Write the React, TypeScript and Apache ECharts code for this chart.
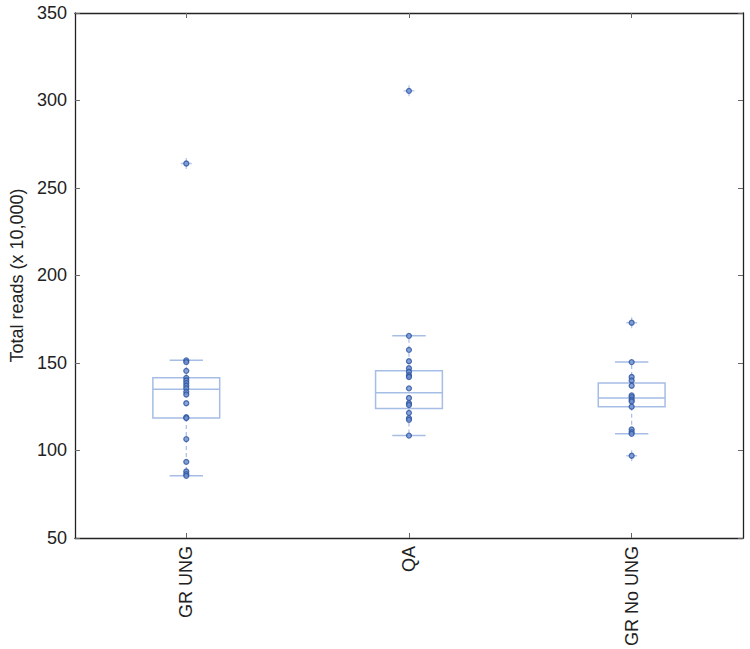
import React, { useEffect, useRef } from "react";
import * as echarts from "echarts";

const categories = ["GR UNG", "QA", "GR No UNG"];
// [min, Q1, median, Q3, max(whisker)]
const boxStats = [
  [85.5, 118.5, 135, 141.5, 151.5],
  [108.5, 124, 133, 145.5, 165.5],
  [109.5, 125, 130, 138.5, 150.5],
];
const pointsGRUNG = [264, 151.5, 150.5, 145.5, 141.5, 140, 138.5, 137, 135.5, 133.5, 132, 127, 119, 118.5, 106.5, 93.5, 88, 86.5, 85.5];
const pointsQA = [305.5, 165.5, 157.5, 151, 147, 145, 143, 142, 135.5, 130, 127, 126, 121.5, 118.5, 117.5, 108.5];
const pointsGRNoUNG = [173, 150.5, 142, 140, 137, 131.5, 130.5, 129, 128, 125, 112, 110.5, 109.5, 97];
const outliers: [string, number][] = [
  ["GR UNG", 264],
  ["QA", 305.5],
  ["GR No UNG", 173],
  ["GR No UNG", 97],
];
const yTicks = { min: 50, max: 350, interval: 50 };

const BOX_COLOR = "#a6bde6";
const AXIS_COLOR = "#222";
const FONT = "Liberation Sans, Arial, sans-serif";

export default function App() {
  const ref = useRef<HTMLDivElement>(null);
  useEffect(() => {
    if (!ref.current) return;
    const chart = echarts.init(ref.current, null, { renderer: "svg" });
    const allPoints = [pointsGRUNG, pointsQA, pointsGRNoUNG];
    const pointData: [string, number][] = [];
    allPoints.forEach((arr, i) => arr.forEach((v) => pointData.push([categories[i], v])));

    const axisCommon = {
      axisLine: { show: true, lineStyle: { color: AXIS_COLOR, width: 1.3 } },
      splitLine: { show: false },
    };
    const tick = { show: true, inside: true, length: 5, lineStyle: { color: "#666" } };

    chart.setOption({
      animation: false,
      grid: { left: 65, right: 7, top: 13, bottom: 111 },
      xAxis: [
        {
          type: "category",
          data: categories,
          position: "bottom",
          boundaryGap: true,
          ...axisCommon,
          axisTick: { ...tick, alignWithLabel: true },
          axisLabel: { rotate: 90, fontSize: 18, color: "#222", fontFamily: FONT, margin: 8 },
        },
        {
          type: "category",
          data: categories,
          position: "top",
          boundaryGap: true,
          ...axisCommon,
          axisTick: { ...tick, alignWithLabel: true },
          axisLabel: { show: false },
        },
      ],
      yAxis: [
        {
          type: "value",
          position: "left",
          min: yTicks.min,
          max: yTicks.max,
          interval: yTicks.interval,
          ...axisCommon,
          axisTick: tick,
          axisLabel: { fontSize: 18, color: "#222", fontFamily: FONT, margin: 8 },
          name: "Total reads (x 10,000)",
          nameLocation: "middle",
          nameGap: 44,
          nameTextStyle: { fontSize: 18, color: "#222", fontFamily: FONT },
        },
        {
          type: "value",
          position: "right",
          min: yTicks.min,
          max: yTicks.max,
          interval: yTicks.interval,
          ...axisCommon,
          axisTick: tick,
          axisLabel: { show: false },
        },
      ],
      series: [
        {
          type: "custom",
          xAxisIndex: 0,
          yAxisIndex: 0,
          encode: { x: 0, y: [1, 2, 3, 4, 5] },
          data: boxStats.map((s, i) => [i, ...s]),
          renderItem: (params: any, api: any) => {
            const idx = api.value(0);
            const pMin = api.coord([idx, api.value(1)]);
            const pQ1 = api.coord([idx, api.value(2)]);
            const pMed = api.coord([idx, api.value(3)]);
            const pQ3 = api.coord([idx, api.value(4)]);
            const pMax = api.coord([idx, api.value(5)]);
            const band = api.size([1, 0])[0];
            const bw = band * 0.3;
            const cw = band * 0.15;
            const cx = pMed[0];
            const solid = { stroke: BOX_COLOR, lineWidth: 1.5, fill: "none" };
            const dashed = { stroke: BOX_COLOR, lineWidth: 1.2, lineDash: [4, 3] };
            return {
              type: "group",
              children: [
                { type: "rect", shape: { x: cx - bw / 2, y: pQ3[1], width: bw, height: pQ1[1] - pQ3[1] }, style: solid },
                { type: "line", shape: { x1: cx - bw / 2, y1: pMed[1], x2: cx + bw / 2, y2: pMed[1] }, style: solid },
                { type: "line", shape: { x1: cx, y1: pQ1[1], x2: cx, y2: pMin[1] }, style: dashed },
                { type: "line", shape: { x1: cx, y1: pQ3[1], x2: cx, y2: pMax[1] }, style: dashed },
                { type: "line", shape: { x1: cx - cw / 2, y1: pMin[1], x2: cx + cw / 2, y2: pMin[1] }, style: solid },
                { type: "line", shape: { x1: cx - cw / 2, y1: pMax[1], x2: cx + cw / 2, y2: pMax[1] }, style: solid },
              ],
            };
          },
        },
        {
          type: "scatter",
          xAxisIndex: 0,
          yAxisIndex: 0,
          data: outliers,
          symbol: "path://M4.4,0H5.6V10H4.4Z M0,4.4H10V5.6H0Z",
          symbolSize: 11,
          itemStyle: { color: BOX_COLOR },
        },
        {
          type: "scatter",
          xAxisIndex: 0,
          yAxisIndex: 0,
          data: pointData,
          symbol: "circle",
          symbolSize: 5,
          itemStyle: { color: "#6f90cf", borderColor: "#2a52a0", borderWidth: 1.3 },
        },
      ],
    });
    return () => chart.dispose();
  }, []);
  return (
    <div
      ref={ref}
      style={{ position: "absolute", left: 0, top: 0, width: 750, height: 649 }}
    />
  );
}
